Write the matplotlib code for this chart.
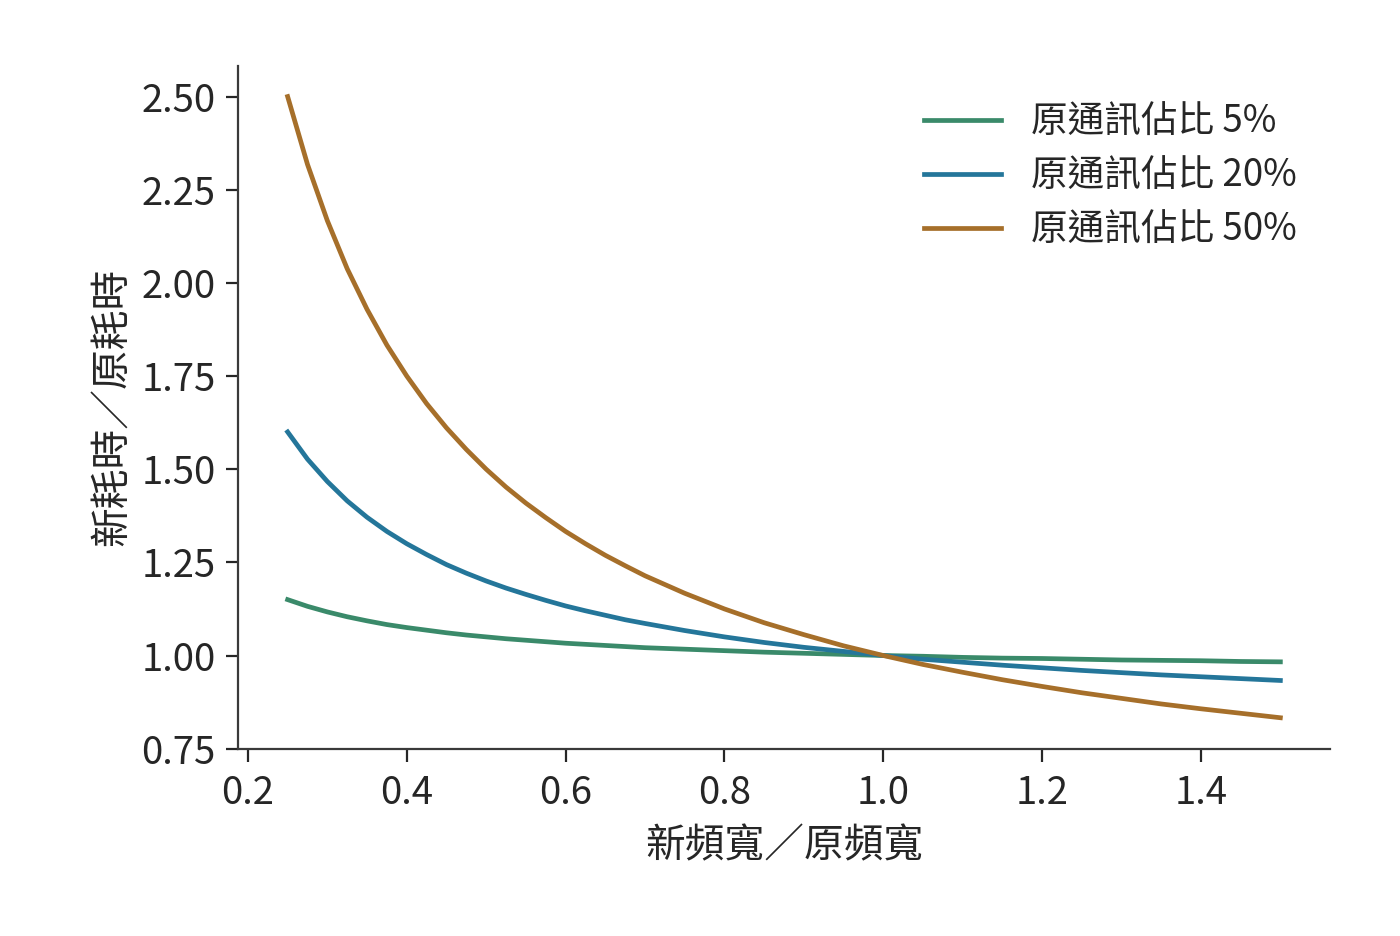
import matplotlib.pyplot as plt

plt.rcParams['font.family'] = ['Noto Sans CJK TC', 'DejaVu Sans']

# 新頻寬／原頻寬
ratio = [0.25, 0.275, 0.3, 0.325, 0.35, 0.375, 0.4, 0.425, 0.45, 0.475, 0.5,
         0.525, 0.55, 0.575, 0.6, 0.625, 0.65, 0.675, 0.7, 0.75, 0.8, 0.85,
         0.9, 0.95, 1.0, 1.05, 1.1, 1.15, 1.2, 1.25, 1.3, 1.35, 1.4, 1.45, 1.5]

time_5 = [1.150, 1.132, 1.117, 1.104, 1.093, 1.083, 1.075, 1.068, 1.061, 1.055, 1.050,
          1.045, 1.041, 1.037, 1.033, 1.030, 1.027, 1.024, 1.021, 1.017, 1.013, 1.009,
          1.006, 1.003, 1.000, 0.998, 0.995, 0.993, 0.992, 0.990, 0.988, 0.987, 0.986, 0.984, 0.983]
time_20 = [1.600, 1.527, 1.467, 1.415, 1.371, 1.333, 1.300, 1.271, 1.244, 1.221, 1.200,
           1.181, 1.164, 1.148, 1.133, 1.120, 1.108, 1.096, 1.086, 1.067, 1.050, 1.035,
           1.022, 1.011, 1.000, 0.990, 0.982, 0.974, 0.967, 0.960, 0.954, 0.948, 0.943, 0.938, 0.933]
time_50 = [2.500, 2.318, 2.167, 2.038, 1.929, 1.833, 1.750, 1.676, 1.611, 1.553, 1.500,
           1.452, 1.409, 1.370, 1.333, 1.300, 1.269, 1.241, 1.214, 1.167, 1.125, 1.088,
           1.056, 1.026, 1.000, 0.976, 0.955, 0.935, 0.917, 0.900, 0.885, 0.870, 0.857, 0.845, 0.833]

labels = ['原通訊佔比 5%', '原通訊佔比 20%', '原通訊佔比 50%']
colors = ['#3a8a6a', '#24769a', '#a66f2a']

fig, ax = plt.subplots(figsize=(7, 4.68), dpi=200)
for ys, lab, col in zip([time_5, time_20, time_50], labels, colors):
    ax.plot(ratio, ys, color=col, lw=1.7, label=lab, solid_joinstyle='round')

ax.set_xlabel('新頻寬／原頻寬', fontsize=14.3, color='#262626', labelpad=5)
ax.set_ylabel('新耗時／原耗時', fontsize=14.3, color='#262626', labelpad=3)
ax.set_xticks([0.2, 0.4, 0.6, 0.8, 1.0, 1.2, 1.4])
ax.set_yticks([0.75, 1.0, 1.25, 1.5, 1.75, 2.0, 2.25, 2.5])
ax.yaxis.set_major_formatter(plt.FormatStrFormatter('%.2f'))
ax.xaxis.set_major_formatter(plt.FormatStrFormatter('%.1f'))
ax.tick_params(labelsize=13.8, colors='#262626', length=4.5, width=0.8)
ax.tick_params(axis='x', pad=4.5)
for s in ['top', 'right']:
    ax.spines[s].set_visible(False)
for s in ['left', 'bottom']:
    ax.spines[s].set_color('#3a3a3a')
    ax.spines[s].set_linewidth(0.8)

ax.legend(frameon=False, fontsize=13.2, handlelength=2.1, loc='upper right',
          bbox_to_anchor=(0.996, 0.988), labelcolor='#262626',
          labelspacing=0.4, borderaxespad=0.4)

fig.subplots_adjust(left=0.17, right=0.95, top=0.93, bottom=0.2)
fig.savefig('out.png', dpi=200)
